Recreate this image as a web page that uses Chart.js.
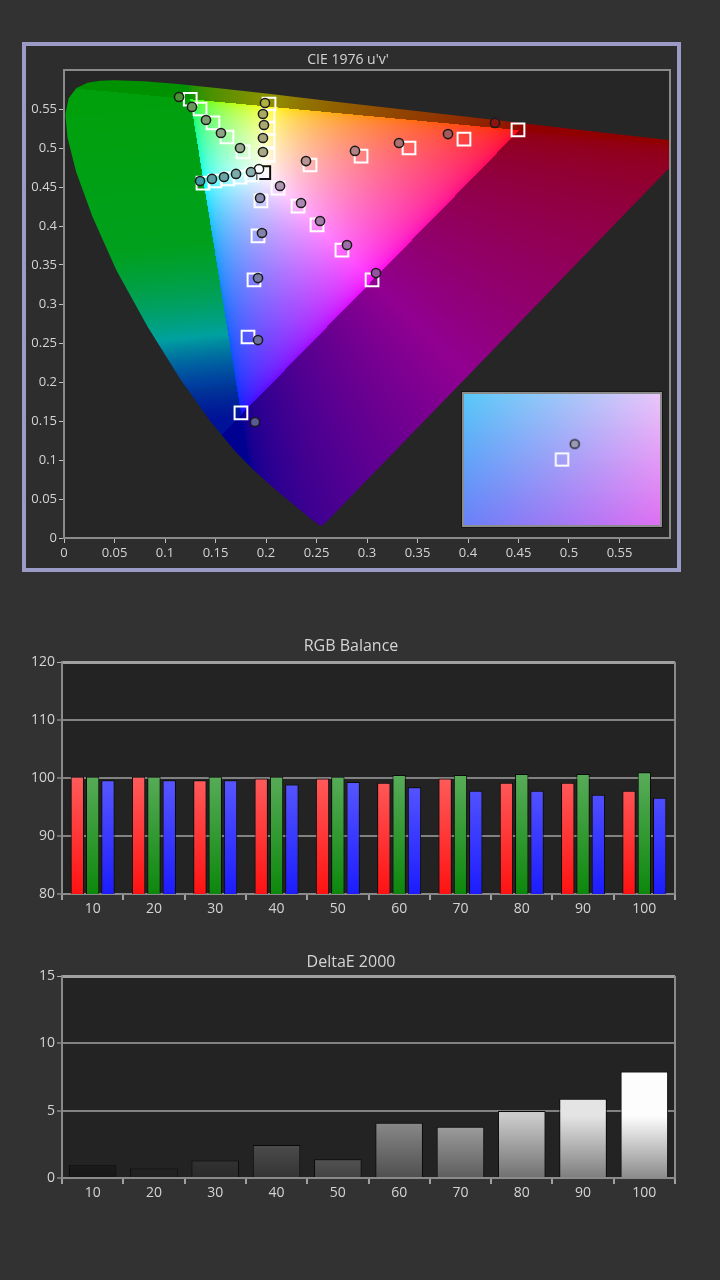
<!DOCTYPE html>
<html><head><meta charset="utf-8">
<script src="https://cdn.jsdelivr.net/npm/chart.js@4.4.1/dist/chart.umd.min.js"></script>
<style>
html,body{margin:0;padding:0;background:#323232;width:720px;height:1280px;overflow:hidden;}
#cieFrame{position:absolute;left:22px;top:42px;width:651px;height:522px;border:4px solid #9c9ac6;background:#2d2d2d;}
#cieFrame canvas{display:block}
#inset{position:absolute;left:462px;top:392px;border:2px solid #8c8c8c;outline:1px solid #151515;display:block}
#rgb{position:absolute;left:0;top:630px;display:block}
#de{position:absolute;left:0;top:945px;display:block}
</style></head>
<body>
<div id="cieFrame"><canvas id="cie" width="651" height="522"></canvas></div>
<canvas id="inset" width="200" height="135"></canvas>
<canvas id="rgb" width="720" height="290"></canvas>
<canvas id="de" width="720" height="265"></canvas>
<script>
// ================= DATA =================
// CIE 1976 spectral locus (u', v'), 380 nm ... 700 nm
const locusU = [0.2568,0.2557,0.2522,0.2461,0.2347,0.2161,0.2033,0.1877,0.1690,0.1441,0.1147,0.0828,0.0521,0.0282,0.0119,0.0035,0.0014,0.0046,0.0123,0.0231,0.0360,0.0501,0.0792,0.1127,0.1531,0.2026,0.2623,0.3315,0.4035,0.4692,0.5203,0.5565,0.5830,0.6005,0.6109,0.6199,0.6234];
const locusV = [0.0166,0.0159,0.0169,0.0226,0.0350,0.0549,0.0688,0.0871,0.1119,0.1510,0.2044,0.2708,0.3427,0.4117,0.4698,0.5131,0.5432,0.5638,0.5770,0.5837,0.5861,0.5868,0.5856,0.5821,0.5766,0.5694,0.5604,0.5501,0.5393,0.5296,0.5219,0.5165,0.5125,0.5099,0.5084,0.5070,0.5065];

// saturation sweeps 20,40,60,80,100 %
const satLevels = [20,40,60,80,100];
const redTargetU = [0.2436,0.2941,0.3416,0.3960,0.4495];
const redTargetV = [0.4782,0.4897,0.5000,0.5115,0.5231];
const redMeasU   = [0.2396,0.2881,0.3317,0.3802,0.4267];
const redMeasV   = [0.4833,0.4962,0.5064,0.5179,0.5321];
const greenTargetU = [0.1772,0.1614,0.1475,0.1347,0.1250];
const greenTargetV = [0.4949,0.5141,0.5321,0.5500,0.5625];
const greenMeasU   = [0.1743,0.1554,0.1406,0.1267,0.1139];
const greenMeasV   = [0.5000,0.5192,0.5359,0.5526,0.5654];
const blueTargetU = [0.1950,0.1921,0.1881,0.1822,0.1752];
const blueTargetV = [0.4321,0.3872,0.3308,0.2577,0.1603];
const blueMeasU   = [0.1941,0.1960,0.1921,0.1921,0.1891];
const blueMeasV   = [0.4359,0.3910,0.3333,0.2538,0.1487];
const cyanTargetU = [0.1861,0.1743,0.1624,0.1495,0.1376];
const cyanTargetV = [0.4654,0.4628,0.4603,0.4577,0.4551];
const cyanMeasU   = [0.1851,0.1703,0.1584,0.1465,0.1347];
const cyanMeasV   = [0.4692,0.4667,0.4628,0.4603,0.4577];
const magentaTargetU = [0.2119,0.2317,0.2505,0.2752,0.3050];
const magentaTargetV = [0.4487,0.4256,0.4013,0.3692,0.3308];
const magentaMeasU   = [0.2139,0.2347,0.2535,0.2802,0.3089];
const magentaMeasV   = [0.4513,0.4295,0.4064,0.3756,0.3397];
const yellowTargetU = [0.2020,0.2020,0.2020,0.2020,0.2030];
const yellowTargetV = [0.4910,0.5090,0.5256,0.5410,0.5564];
const yellowMeasU   = [0.1970,0.1970,0.1980,0.1970,0.1990];
const yellowMeasV   = [0.4949,0.5128,0.5295,0.5436,0.5577];
const whiteTargetU = [0.1978];
const whiteTargetV = [0.4683];
const whiteMeasU   = [0.1931];
const whiteMeasV   = [0.4731];
// inset (zoom on white point, offsets from target)
const insetTargetDU = [0];
const insetTargetDV = [0];
const insetMeasDU = [0.0013];
const insetMeasDV = [0.0016];

// grayscale
const stimulusLabels = ['10','20','30','40','50','60','70','80','90','100'];
const redBalance   = [100.2,100.2,99.6,99.9,99.9,99.2,99.9,99.2,99.2,97.8];
const greenBalance = [100.2,100.2,100.2,100.2,100.2,100.5,100.5,100.7,100.7,101.0];
const blueBalance  = [99.6,99.6,99.6,98.9,99.3,98.4,97.8,97.8,97.1,96.6];
const deltaE2000   = [0.95,0.7,1.3,2.45,1.4,4.1,3.8,4.98,5.88,7.9];
const rgbTicks = [80,90,100,110,120];
const deTicks = [0,5,10,15];

// ================= STYLE =================
const TXT = '#d4d4d4';
const FONT = "'Open Sans', 'Noto Sans', sans-serif";
Chart.defaults.font.family = FONT;
const redMeasColors     = ['#b89494','#b48282','#ac7070','#a45a5a','#8e1414'];
const greenMeasColors   = ['#9aaa92','#8ea484','#7e9e72','#6a985c','#4a9236'];
const blueMeasColors    = ['#8c8cb0','#8282aa','#7878a4','#6e6e9e','#5a5a96'];
const cyanMeasColors    = ['#8cb0b0','#7aaaaa','#6aa4a6','#58a0a2','#3a9aa0'];
const magentaMeasColors = ['#b094b4','#aa88b0','#a47cac','#9e6ea8','#9850a4'];
const yellowMeasColors  = ['#a8a884','#a6a67a','#a8a870','#aaaa62','#b0b040'];
const deBarColors = ['#2a2a2a','#383838','#4b4b4b','#5f5f5f','#787878','#8f8f8f','#a9a9a9','#cbcbcb','#e4e4e4','#fdfdfd'];

const pts = (U,V)=>U.map((u,i)=>({x:u,y:V[i]}));

// ================= CIE =================
const GV = [0.125,0.5625], BV = [0.1754,0.1579];
function lerp(a,b,t){return a+(b-a)*t;}
function uvColor(u,v){
  const d = 6*u - 16*v + 12;
  const xx = 9*u/d, yy = 4*v/d;
  if (yy <= 1e-5) return [0,0,0];
  const X = xx/yy, Y = 1, Z = (1-xx-yy)/yy;
  let r = 3.2406*X - 1.5372*Y - 0.4986*Z;
  let g = -0.9689*X + 1.8758*Y + 0.0415*Z;
  let b = 0.0557*X - 0.2040*Y + 1.0570*Z;
  const out = (r<0||g<0||b<0);
  if (r<0 && b>=0 && g>=0) {
    const dx=BV[0]-GV[0], dy=BV[1]-GV[1];
    let t = ((u-GV[0])*dx + (v-GV[1])*dy)/(dx*dx+dy*dy);
    t = Math.max(0, Math.min(1.1, t));
    let gg, bb;
    if (t<0.45){ gg=1; bb=0.08+0.1*t/0.45; }
    else if (t<0.75){ const s=(t-0.45)/0.3; gg=lerp(1,0.6,s); bb=lerp(0.18,0.62,s); }
    else { const s=Math.min(1,(t-0.75)/0.25); gg=lerp(0.6,0.12,s); bb=lerp(0.62,1,s); }
    const m=Math.max(gg,bb);
    return [0, gg/m*160, bb/m*160*(t>0.9?0.95:1)];
  }
  r=Math.max(r,0); g=Math.max(g,0); b=Math.max(b,0);
  const m = Math.max(r,g,b) || 1;
  const k = out ? 0.57 : 1;
  const gm = c => Math.pow(c/m, 1/2.2)*255*k;
  return [gm(r),gm(g),gm(b)];
}
const cieFill = {
  id:'cieFill',
  beforeDatasetsDraw(chart){
    const {ctx, chartArea:a, scales:{x,y}} = chart;
    const W = Math.ceil(a.width), H = Math.ceil(a.height);
    if(!chart.$off || chart.$off.width!==W || chart.$off.height!==H){
      const off = document.createElement('canvas'); off.width=W; off.height=H;
      const oc = off.getContext('2d'); const img = oc.createImageData(W,H);
      for(let j=0;j<H;j++){
        const v = y.getValueForPixel(a.top+j+0.5);
        for(let i=0;i<W;i++){
          const u = x.getValueForPixel(a.left+i+0.5);
          const c = uvColor(u,v); const p=(j*W+i)*4;
          img.data[p]=c[0]; img.data[p+1]=c[1]; img.data[p+2]=c[2]; img.data[p+3]=255;
        }
      }
      oc.putImageData(img,0,0); chart.$off = off;
    }
    ctx.save();
    ctx.beginPath(); ctx.rect(a.left,a.top,a.width,a.height); ctx.clip();
    ctx.beginPath();
    locusU.forEach((u,i)=>{const px=x.getPixelForValue(u), py=y.getPixelForValue(locusV[i]); i?ctx.lineTo(px,py):ctx.moveTo(px,py);});
    ctx.closePath(); ctx.clip();
    ctx.drawImage(chart.$off, a.left, a.top);
    ctx.restore();
  }
};
const plotBg = (fill, stroke, lw) => ({
  id:'plotBg',
  beforeDraw(chart){const {ctx,chartArea:a}=chart; ctx.save(); ctx.fillStyle=fill; ctx.fillRect(a.left,a.top,a.width,a.height); ctx.restore();},
  afterDraw(chart){ if(!stroke) return; const {ctx,chartArea:a}=chart; ctx.save(); ctx.strokeStyle=stroke; ctx.lineWidth=lw; ctx.strokeRect(a.left,a.top,a.width,a.height); ctx.restore();}
});
const fmt = v => String(+(+v).toFixed(2));

const targetDs = (U,V,col)=>({data:pts(U,V), pointStyle:'rect', pointRadius:9, pointBorderWidth:2, pointBorderColor:col, pointBackgroundColor:'rgba(0,0,0,0)', order:2});
const measDs = (U,V,cols)=>({data:pts(U,V), pointStyle:'circle', pointRadius:4.6, pointBorderWidth:1.5, pointBorderColor:'#1a1a1a', pointBackgroundColor:cols, order:1});

const axisCommon = {
  type:'linear', min:0, max:0.6,
  ticks:{stepSize:0.05, color:TXT, font:{size:13}, callback:fmt, autoSkip:false, maxRotation:0, padding:2},
  grid:{display:true, drawOnChartArea:false, tickLength:5, color:'#c0c0c0', lineWidth:1},
  border:{display:false},
  afterBuildTicks(s){ s.ticks = s.ticks.filter(t=>t.value<0.59); }
};
new Chart(document.getElementById('cie'), {
  type:'scatter',
  data:{datasets:[
    targetDs(redTargetU,redTargetV,'#ffffff'),
    targetDs(greenTargetU,greenTargetV,'#ffffff'),
    targetDs(blueTargetU,blueTargetV,'#ffffff'),
    targetDs(cyanTargetU,cyanTargetV,'#ffffff'),
    targetDs(magentaTargetU,magentaTargetV,'#ffffff'),
    targetDs(yellowTargetU,yellowTargetV,'#ffffff'),
    targetDs(whiteTargetU,whiteTargetV,'#111111'),
    measDs(redMeasU,redMeasV,redMeasColors),
    measDs(greenMeasU,greenMeasV,greenMeasColors),
    measDs(blueMeasU,blueMeasV,blueMeasColors),
    measDs(cyanMeasU,cyanMeasV,cyanMeasColors),
    measDs(magentaMeasU,magentaMeasV,magentaMeasColors),
    measDs(yellowMeasU,yellowMeasV,yellowMeasColors),
    measDs(whiteMeasU,whiteMeasV,'#ffffff')
  ]},
  options:{
    responsive:false, animation:false, events:[],
    layout:{autoPadding:false, padding:{left:0,right:7,top:0,bottom:0}},
    plugins:{legend:{display:false}, tooltip:{enabled:false},
      title:{display:true, text:"CIE 1976 u'v'", color:TXT, font:{size:14, weight:'normal'}, padding:{top:5.4,bottom:1.8}}},
    scales:{
      x:Object.assign({}, axisCommon, {afterFit(s){s.height=30;}}),
      y:Object.assign({}, axisCommon, {afterFit(s){s.width=38;}})
    }
  },
  plugins:[plotBg('#262626','#8a8a8a',2), cieFill]
});

// ================= INSET =================
const insetBg = {
  id:'insetBg',
  beforeDraw(chart){
    const {ctx,width:W,height:H}=chart;
    const tl=[88,200,248], tr=[234,198,250], bl=[106,128,248], br=[222,112,242];
    const img = ctx.createImageData(W,H);
    for(let j=0;j<H;j++){const fy=j/(H-1);
      for(let i=0;i<W;i++){const fx=i/(W-1); const p=(j*W+i)*4;
        for(let k=0;k<3;k++){ img.data[p+k] = (tl[k]*(1-fx)+tr[k]*fx)*(1-fy) + (bl[k]*(1-fx)+br[k]*fx)*fy; }
        img.data[p+3]=255;}}
    ctx.putImageData(img,0,0);
  }
};
new Chart(document.getElementById('inset'), {
  type:'scatter',
  data:{datasets:[
    {data:pts(insetTargetDU,insetTargetDV), pointStyle:'rect', pointRadius:9, pointBorderWidth:2, pointBorderColor:'#ffffff', pointBackgroundColor:'rgba(0,0,0,0)', order:2},
    {data:pts(insetMeasDU,insetMeasDV), pointStyle:'circle', pointRadius:4.6, pointBorderWidth:1.5, pointBorderColor:'#2a2a3a', pointBackgroundColor:'#9a9ab2', order:1}
  ]},
  options:{responsive:false, animation:false, events:[], layout:{autoPadding:false, padding:0},
    plugins:{legend:{display:false}, tooltip:{enabled:false}},
    scales:{x:{display:false,min:-0.01,max:0.01}, y:{display:false,min:-0.00675,max:0.00675}}},
  plugins:[insetBg]
});

// ================= BAR CHARTS =================
function vgrad(ctx, top, bottom, f0){
  const ch = ctx.chart, a = ch.chartArea;
  if(!a) return top;
  const g = ch.ctx.createLinearGradient(0, a.top + a.height*f0, 0, a.bottom);
  g.addColorStop(0, top); g.addColorStop(1, bottom); return g;
}
function shade(hex, k){
  const n = parseInt(hex.slice(1),16);
  const r=Math.round(((n>>16)&255)*k), g=Math.round(((n>>8)&255)*k), b=Math.round((n&255)*k);
  return `rgb(${r},${g},${b})`;
}
const yGrid = (topVal)=>({color:c=>c.tick && c.tick.value===topVal?'#a0a0a0':'#828282', lineWidth:c=>c.tick && c.tick.value===topVal?3:2, tickLength:5, tickColor:'#b0b0b0', tickWidth:1});
const xAxisBar = h => ({
  afterFit(s){s.height=h;},
  ticks:{color:TXT, font:{size:14}, padding:1, maxRotation:0, autoSkip:false},
  grid:{offset:true, drawOnChartArea:false, tickLength:6, color:'#a0a0a0', lineWidth:2},
  border:{color:'#8a8a8a', width:2}
});
const rightBorder = {
  id:'rightBorder',
  afterDraw(chart){const {ctx,chartArea:a}=chart; ctx.save(); ctx.strokeStyle='#8a8a8a'; ctx.lineWidth=2; ctx.beginPath(); ctx.moveTo(a.right,a.top); ctx.lineTo(a.right,a.bottom); ctx.stroke(); ctx.restore();}
};

new Chart(document.getElementById('rgb'), {
  type:'bar',
  data:{labels:stimulusLabels, datasets:[
    {data:redBalance, backgroundColor:c=>vgrad(c,'#ff6262','#ff1212',0.45), borderColor:'#0a0a0a', borderWidth:1},
    {data:greenBalance, backgroundColor:c=>vgrad(c,'#5eae5e','#0c880c',0.45), borderColor:'#0a0a0a', borderWidth:1},
    {data:blueBalance, backgroundColor:c=>vgrad(c,'#5e5eff','#1c1cff',0.45), borderColor:'#0a0a0a', borderWidth:1}
  ]},
  options:{
    responsive:false, animation:false, events:[],
    layout:{padding:{left:27,right:45,top:0,bottom:0}},
    datasets:{bar:{categoryPercentage:0.75, barPercentage:0.87}},
    plugins:{legend:{display:false}, tooltip:{enabled:false},
      title:{display:true, text:'RGB Balance', color:TXT, font:{size:16, weight:'normal'}, padding:{top:7,bottom:5.8}}},
    scales:{
      x:xAxisBar(26),
      y:{min:rgbTicks[0], max:rgbTicks[rgbTicks.length-1], afterFit(s){s.width=35;},
        afterBuildTicks(s){ s.ticks = rgbTicks.map(v=>({value:v})); },
        ticks:{color:TXT, font:{size:14}, padding:2},
        grid:yGrid(120), border:{color:'#8a8a8a', width:2}}
    }
  },
  plugins:[plotBg('#232323',null,0), rightBorder]
});

new Chart(document.getElementById('de'), {
  type:'bar',
  data:{labels:stimulusLabels, datasets:[
    {data:deltaE2000,
     backgroundColor:c=>{const col=deBarColors[c.dataIndex]||'#888'; const ch=c.chart,a=ch.chartArea; if(!a) return col;
       const g=ch.ctx.createLinearGradient(0,a.bottom-62,0,a.bottom); g.addColorStop(0,col); g.addColorStop(1,shade(col,0.55)); return g;},
     borderColor:'#0a0a0a', borderWidth:1}
  ]},
  options:{
    responsive:false, animation:false, events:[],
    layout:{padding:{left:27,right:45,top:0,bottom:0}},
    datasets:{bar:{categoryPercentage:0.8, barPercentage:0.97}},
    plugins:{legend:{display:false}, tooltip:{enabled:false},
      title:{display:true, text:'DeltaE 2000', color:TXT, font:{size:16, weight:'normal'}, padding:{top:7.5,bottom:4.3}}},
    scales:{
      x:xAxisBar(32),
      y:{min:deTicks[0], max:deTicks[deTicks.length-1], afterFit(s){s.width=35;},
        afterBuildTicks(s){ s.ticks = deTicks.map(v=>({value:v})); },
        ticks:{color:TXT, font:{size:14}, padding:2},
        grid:yGrid(15), border:{color:'#8a8a8a', width:2}}
    }
  },
  plugins:[plotBg('#232323',null,0), rightBorder]
});
</script>
</body></html>
